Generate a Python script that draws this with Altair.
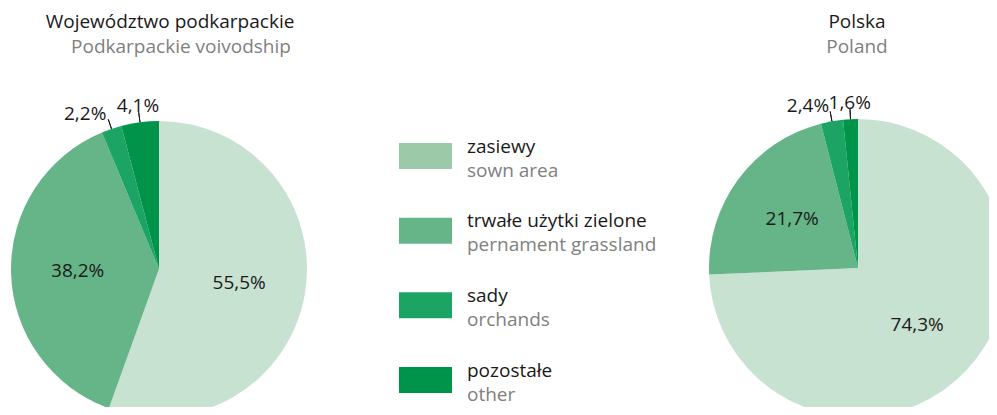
import altair as alt
import pandas as pd

# ---- data -------------------------------------------------------------
categories = ["zasiewy", "trwałe użytki zielone", "sady", "pozostałe"]
categories_en = ["sown area", "pernament grassland", "orchands", "other"]
podkarpackie = [55.5, 38.2, 2.2, 4.1]
polska = [74.3, 21.7, 2.4, 1.6]
titles_pl = ["Województwo podkarpackie", "Polska"]
titles_en = ["Podkarpackie voivodship", "Poland"]

# ---- style ------------------------------------------------------------
PIE_COLORS = ["#c8e2d1", "#66b588", "#1ba464", "#00944a"]
LEGEND_COLORS = ["#9cc9a8", "#66b588", "#1ba464", "#00944a"]
FONT = "Open Sans"
FS = 19
DARK = "#1a1a1a"
GREY = "#808080"
W, H = 981, 399
THETA = alt.Scale(domain=[0, 100])


def pie_layers(values, cx, cy, r):
    df = pd.DataFrame({"cat": categories, "value": values, "order": list(range(len(values)))})
    base = alt.Chart(df).transform_window(
        cum="sum(value)", sort=[alt.SortField("order")], frame=[None, 0]
    ).transform_calculate(
        mid="datum.cum - datum.value / 2",
        label="replace(format(datum.value, '.1f'), '.', ',') + '%'",
    )
    pos = dict(x=alt.value(cx), y=alt.value(cy))
    arcs = base.mark_arc(radius=r, clip=True).encode(
        **pos,
        theta=alt.Theta("value:Q", stack=True, scale=THETA),
        color=alt.Color("cat:N", scale=alt.Scale(domain=categories, range=PIE_COLORS), legend=None),
        order=alt.Order("order:Q"),
    )
    inside = base.transform_filter("datum.value >= 10").mark_text(
        radius=r * 0.55, font=FONT, fontSize=FS, color=DARK
    ).encode(**pos, theta=alt.Theta("mid:Q", scale=THETA), text="label:N")
    leaders = base.transform_filter("datum.value < 10").mark_arc(
        radius=r + 10, radius2=r, stroke=DARK, strokeWidth=1, fillOpacity=0
    ).encode(**pos, theta=alt.Theta("mid:Q", scale=THETA), theta2="mid:Q")
    out_top = base.transform_filter("datum.value < 10 && datum.mid > 97.5").mark_text(
        radius=r + 16, font=FONT, fontSize=FS, color=DARK, align="center", baseline="middle"
    ).encode(**pos, theta=alt.Theta("mid:Q", scale=THETA), text="label:N")
    out_side = base.transform_filter("datum.value < 10 && datum.mid <= 97.5").mark_text(
        radius=r + 16, font=FONT, fontSize=FS, color=DARK, align="right", baseline="middle"
    ).encode(**pos, theta=alt.Theta("mid:Q", scale=THETA), text="label:N")
    return [arcs, inside, leaders, out_top, out_side]


def title_layers(pl, en, x_pl, x_en):
    d = alt.Data(values=[{"pl": pl, "en": en}])
    t1 = alt.Chart(d).mark_text(font=FONT, fontSize=FS, color=DARK, baseline="alphabetic").encode(
        x=alt.value(x_pl), y=alt.value(20), text="pl:N")
    t2 = alt.Chart(d).mark_text(font=FONT, fontSize=FS, color=GREY, baseline="alphabetic").encode(
        x=alt.value(x_en), y=alt.value(45), text="en:N")
    return [t1, t2]


leg = pd.DataFrame({"pl": categories, "en": categories_en,
                    "idx": list(range(len(categories))), "col": LEGEND_COLORS})
yscale = alt.Scale(domain=[0, 3], range=[148, 372])
swatches = alt.Chart(leg).mark_point(
    shape="M-1,-0.49H1V0.49H-1Z", filled=True, size=2809, opacity=1, strokeWidth=0
).encode(x=alt.value(417.5), y=alt.Y("idx:Q", scale=yscale, axis=None),
         fill=alt.Fill("col:N", scale=None))
leg_pl = alt.Chart(leg).mark_text(font=FONT, fontSize=FS, color=DARK, align="left",
                                  baseline="alphabetic", dy=-3.5).encode(
    x=alt.value(459), y=alt.Y("idx:Q", scale=yscale, axis=None), text="pl:N")
leg_en = alt.Chart(leg).mark_text(font=FONT, fontSize=FS, color=GREY, align="left",
                                  baseline="alphabetic", dy=20.5).encode(
    x=alt.value(459), y=alt.Y("idx:Q", scale=yscale, axis=None), text="en:N")

layers = (pie_layers(podkarpackie, 151, 261, 148)
          + pie_layers(polska, 850, 260, 149)
          + title_layers(titles_pl[0], titles_en[0], 162, 173)
          + title_layers(titles_pl[1], titles_en[1], 849, 849)
          + [swatches, leg_pl, leg_en])

chart = alt.layer(*layers).resolve_scale(theta="independent", color="independent").properties(
    width=W, height=H, padding=0, autosize="none", background="white"
).configure_view(strokeWidth=0)

chart.save("out.html", embed_options={"renderer": "svg", "actions": False})
